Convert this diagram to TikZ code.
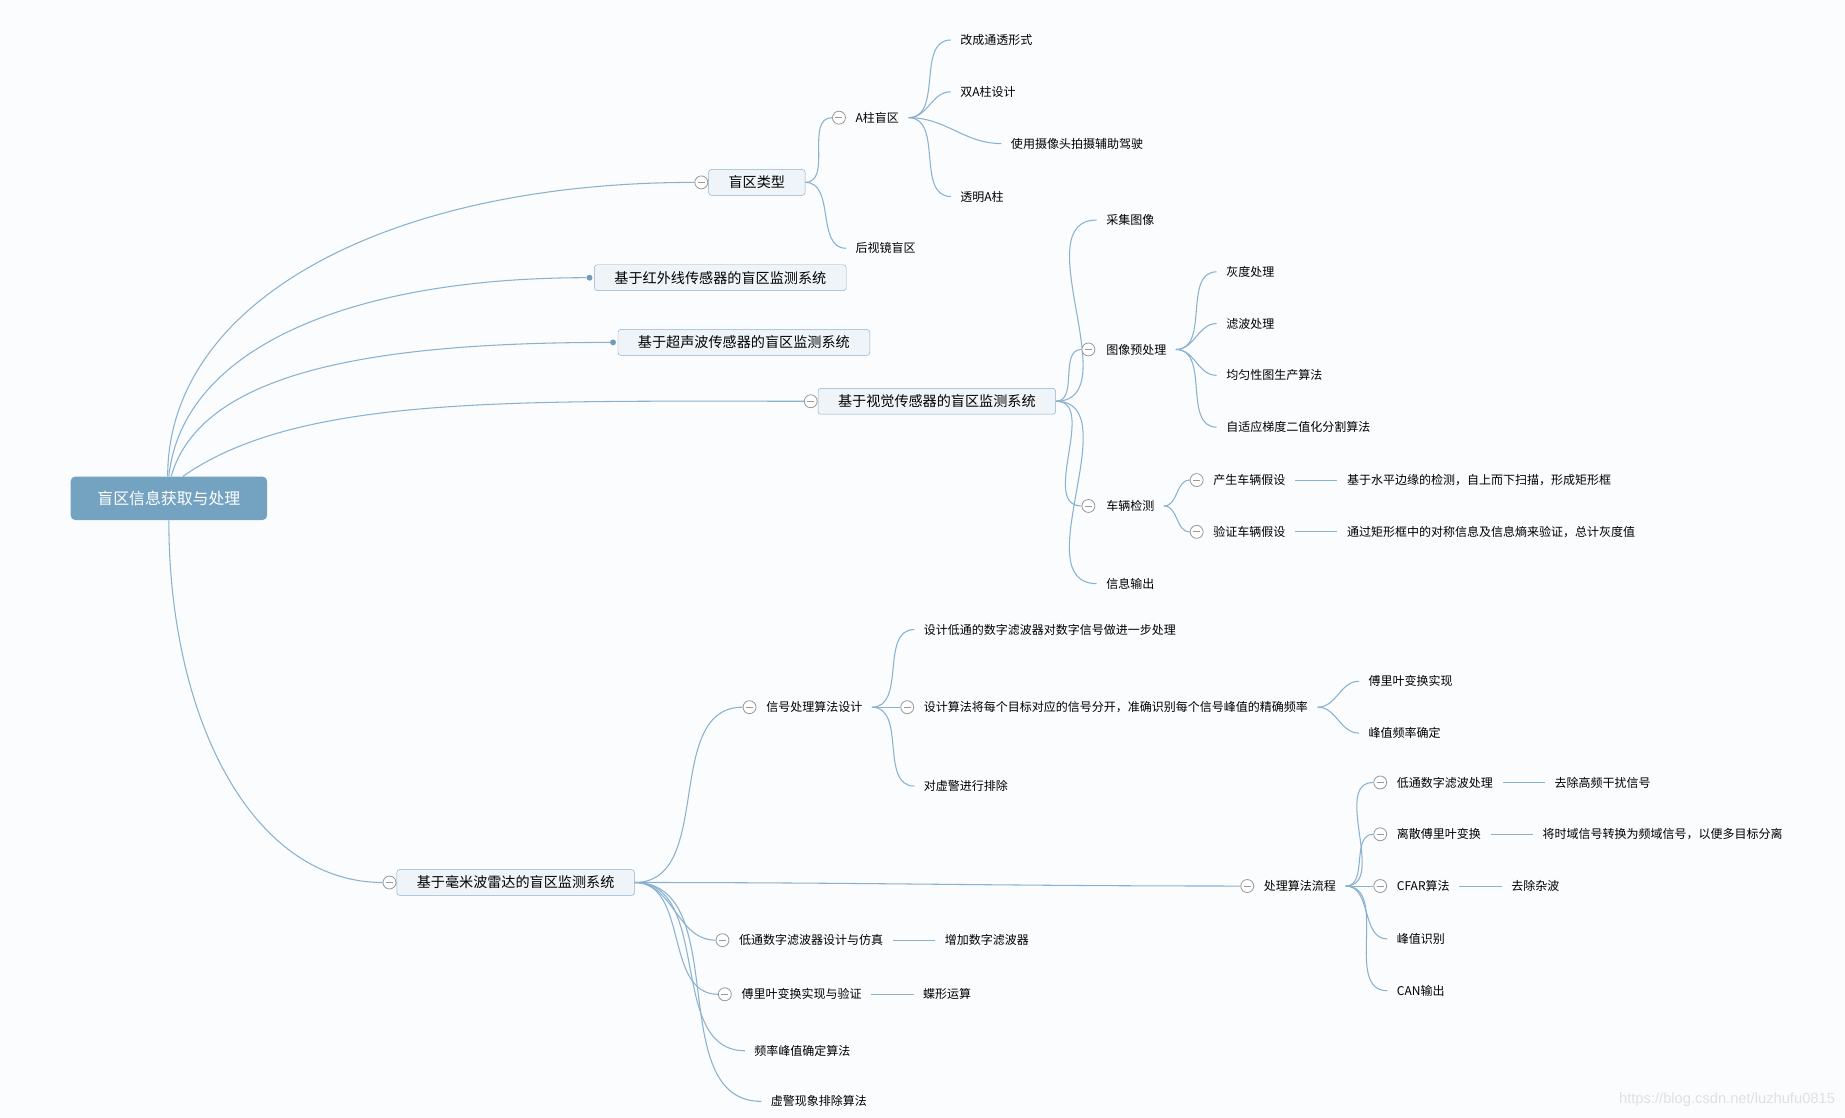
\documentclass[tikz,border=0pt]{standalone}
\usepackage{fontspec}
\setmainfont{Noto Sans CJK SC}
\newfontfamily\urlfont{Liberation Sans}
\usetikzlibrary{positioning, backgrounds}
\definecolor{canvas}{HTML}{FBFCFD}
\definecolor{rootblue}{HTML}{74A3C1}
\definecolor{boxfill}{HTML}{EEF4F8}
\definecolor{boxline}{HTML}{8DB0CC}
\definecolor{linkblue}{HTML}{8AB2CF}
\definecolor{dotblue}{HTML}{6F9ABA}
\definecolor{foldgray}{HTML}{9A9A9A}

\begin{document}
\begin{tikzpicture}[
  x=1pt, y=-1pt,
  root/.style={fill=rootblue, rounded corners=4pt, text=white,
               font=\fontsize{13.5}{16}\selectfont, minimum width=167pt, minimum height=37pt},
  topic/.style={draw=boxline, fill=boxfill, rounded corners=2.5pt, anchor=west,
                font=\fontsize{12}{14}\selectfont, minimum height=22pt, inner xsep=17pt, inner ysep=0pt},
  leaf/.style={anchor=west, inner xsep=8pt, inner ysep=2pt, font=\fontsize{10.2}{12}\selectfont},
  fold/.style={circle, draw=foldgray, fill=white, line width=0.7pt, inner sep=0pt, minimum size=11pt,
               path picture={\draw[foldgray, line width=0.7pt]
                 ([xshift=-3pt]path picture bounding box.center) -- ([xshift=3pt]path picture bounding box.center);}},
  dot/.style={circle, fill=dotblue, inner sep=0pt, minimum size=5pt},
  link/.style={draw=linkblue, line width=0.9pt},
  sb/.style={link, out=0, in=180}
]
\useasboundingbox (0,0) rectangle (1568,950);
% root and main topics
\node[root] (root) at (143.5,423.5) {盲区信息获取与处理};
\node[topic] (type) at (602,155) {盲区类型};
\node[fold] (f-type) at (596,155) {};
\node[topic] (ir) at (505,236) {基于红外线传感器的盲区监测系统};
\node[dot] (d-ir) at (501,236) {};
\node[topic] (us) at (525,291) {基于超声波传感器的盲区监测系统};
\node[dot] (d-us) at (521,291) {};
\node[topic] (vis) at (695,341) {基于视觉传感器的盲区监测系统};
\node[fold] (f-vis) at (689,341) {};
\node[topic] (mmw) at (337,750) {基于毫米波雷达的盲区监测系统};
\node[fold] (f-mmw) at (331,750) {};

% blind spot types
\node[fold] (f-apil) at (713,100) {};
\node[leaf] (apil) at (719,100) {A柱盲区};
\node[leaf] (mirror) at (719,211) {后视镜盲区};
\node[leaf] (a1) at (808,34) {改成通透形式};
\node[leaf] (a2) at (808,78) {双A柱设计};
\node[leaf] (a3) at (851,122) {使用摄像头拍摄辅助驾驶};
\node[leaf] (a4) at (808,167) {透明A柱};

% vision
\node[leaf] (v1) at (932,187) {采集图像};
\node[fold] (f-v2) at (925,297) {};
\node[leaf] (v2) at (932,297) {图像预处理};
\node[fold] (f-v3) at (925,430) {};
\node[leaf] (v3) at (932,430) {车辆检测};
\node[leaf] (v4) at (932,496) {信息输出};
\node[leaf] (p1) at (1034,231) {灰度处理};
\node[leaf] (p2) at (1034,275) {滤波处理};
\node[leaf] (p3) at (1034,319) {均匀性图生产算法};
\node[leaf] (p4) at (1034,363) {自适应梯度二值化分割算法};
\node[fold] (f-h1) at (1017,408) {};
\node[leaf] (h1) at (1023,408) {产生车辆假设};
\node[leaf, right=36pt of h1] (h1d) {基于水平边缘的检测，自上而下扫描，形成矩形框};
\node[fold] (f-h2) at (1017,452) {};
\node[leaf] (h2) at (1023,452) {验证车辆假设};
\node[leaf, right=36pt of h2] (h2d) {通过矩形框中的对称信息及信息熵来验证，总计灰度值};

% millimetre-wave radar
\node[fold] (f-m1) at (637,601) {};
\node[leaf] (m1) at (643,601) {信号处理算法设计};
\node[leaf] (s1) at (777,535) {设计低通的数字滤波器对数字信号做进一步处理};
\node[fold] (f-s2) at (771,601) {};
\node[leaf] (s2) at (777,601) {设计算法将每个目标对应的信号分开，准确识别每个信号峰值的精确频率};
\node[leaf] (s3) at (777,668) {对虚警进行排除};
\node[leaf] (s21) at (1155,579) {傅里叶变换实现};
\node[leaf] (s22) at (1155,623) {峰值频率确定};
\node[fold] (f-m2) at (1060,753) {};
\node[leaf] (m2) at (1066,753) {处理算法流程};
\node[fold] (f-q1) at (1173,665) {};
\node[leaf] (q1) at (1179,665) {低通数字滤波处理};
\node[leaf, right=36pt of q1] (q1d) {去除高频干扰信号};
\node[fold] (f-q2) at (1173,709) {};
\node[leaf] (q2) at (1179,709) {离散傅里叶变换};
\node[leaf, right=36pt of q2] (q2d) {将时域信号转换为频域信号，以便多目标分离};
\node[fold] (f-q3) at (1173,753) {};
\node[leaf] (q3) at (1179,753) {CFAR算法};
\node[leaf, right=36pt of q3] (q3d) {去除杂波};
\node[leaf] (q4) at (1179,798) {峰值识别};
\node[leaf] (q5) at (1179,842) {CAN输出};
\node[fold] (f-m3) at (614,799) {};
\node[leaf] (m3) at (620,799) {低通数字滤波器设计与仿真};
\node[leaf, right=36pt of m3] (m3d) {增加数字滤波器};
\node[fold] (f-m4) at (616,845) {};
\node[leaf] (m4) at (622,845) {傅里叶变换实现与验证};
\node[leaf, right=36pt of m4] (m4d) {蝶形运算};
\node[leaf] (m5) at (633,893) {频率峰值确定算法};
\node[leaf] (m6) at (647,936) {虚警现象排除算法};

\node[anchor=east, text=black!12, font=\urlfont\fontsize{12.5}{14}\selectfont] (mark) at (1563,935)
  {https://blog.csdn.net/luzhufu0815};

\begin{scope}[on background layer]
\fill[canvas] (0,0) rectangle (1568,950);
\draw[link] ([xshift=-1pt]root.north) to[out=90, in=180, out distance=150pt, in distance=260pt] (f-type.west);
\draw[link] (root.north) to[out=84, in=180, out distance=110pt, in distance=200pt] (d-ir);
\draw[link] ([xshift=2pt]root.north) to[out=74, in=180, out distance=90pt, in distance=210pt] (d-us);
\draw[link] ([xshift=12pt]root.north) to[out=35, in=180, out distance=120pt, in distance=250pt] (f-vis.west);
\draw[link] (root.south) to[out=-90, in=180, out distance=170pt, in distance=110pt] (f-mmw.west);

\draw[sb] (type.east) to (f-apil.west); \draw[sb] (type.east) to (mirror.west);
\draw[sb] (apil.east) to (a1.west); \draw[sb] (apil.east) to (a2.west);
\draw[sb] (apil.east) to (a3.west); \draw[sb] (apil.east) to (a4.west);

\draw[sb] (vis.east) to (v1.west); \draw[sb] (vis.east) to (f-v2.west);
\draw[sb] (vis.east) to (f-v3.west); \draw[sb] (vis.east) to (v4.west);
\draw[sb] (v2.east) to (p1.west); \draw[sb] (v2.east) to (p2.west);
\draw[sb] (v2.east) to (p3.west); \draw[sb] (v2.east) to (p4.west);
\draw[sb] (v3.east) to (f-h1.west); \draw[sb] (v3.east) to (f-h2.west);
\draw[link] (h1) -- (h1d); \draw[link] (h2) -- (h2d);

\draw[sb] (mmw.east) to (f-m1.west); \draw[sb] (mmw.east) to (f-m2.west);
\draw[sb] (mmw.east) to (f-m3.west); \draw[sb] (mmw.east) to (f-m4.west);
\draw[sb] (mmw.east) to (m5.west); \draw[sb] (mmw.east) to (m6.west);
\draw[sb] (m1.east) to (s1.west); \draw[sb] (m1.east) to (f-s2.west); \draw[sb] (m1.east) to (s3.west);
\draw[sb] (s2.east) to (s21.west); \draw[sb] (s2.east) to (s22.west);
\draw[sb] (m2.east) to (f-q1.west); \draw[sb] (m2.east) to (f-q2.west); \draw[sb] (m2.east) to (f-q3.west);
\draw[sb] (m2.east) to (q4.west); \draw[sb] (m2.east) to (q5.west);
\draw[link] (q1) -- (q1d); \draw[link] (q2) -- (q2d); \draw[link] (q3) -- (q3d);
\draw[link] (m3) -- (m3d); \draw[link] (m4) -- (m4d);
\end{scope}
\end{tikzpicture}
\end{document}
